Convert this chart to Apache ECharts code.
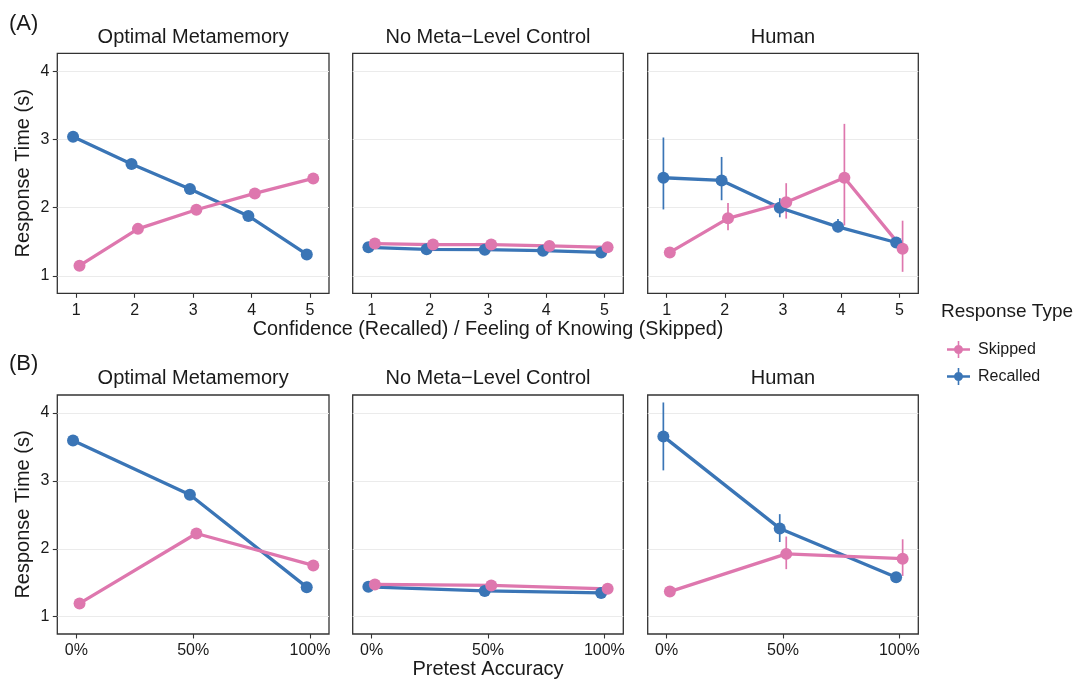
<!DOCTYPE html>
<html><head><meta charset="utf-8">
<script src="https://cdn.jsdelivr.net/npm/echarts@6/dist/echarts.min.js"></script>
<style>html,body{margin:0;padding:0;background:#fff}#c{width:1075px;height:682px}</style>
</head><body><div id="c"></div>
<script>
// ---------- data ----------
const panelNames = ['Optimal Metamemory', 'No Meta\u2212Level Control', 'Human'];
const seriesNames = ['Skipped', 'Recalled'];
const confLevels = [1, 2, 3, 4, 5];
const accLevels = [0, 50, 100];
const confTicks = [1, 2, 3, 4, 5];
const accTicks = [0, 50, 100];
const yTicks = [1, 2, 3, 4];

// (A) Confidence / FOK
const optConfRecalled = [3.04, 2.64, 2.275, 1.88, 1.315];
const optConfSkipped  = [1.15, 1.69, 1.97, 2.21, 2.43];
const nmlConfRecalled = [1.42, 1.39, 1.385, 1.37, 1.345];
const nmlConfSkipped  = [1.475, 1.46, 1.46, 1.44, 1.42];
const humConfRecalled   = [2.44, 2.40, 2.00, 1.72, 1.49];
const humConfRecalledLo = [1.975, 2.11, 1.86, 1.64, 1.45];
const humConfRecalledHi = [3.03, 2.745, 2.14, 1.835, 1.53];
const humConfSkipped    = [1.345, 1.845, 2.08, 2.44, 1.40];
const humConfSkippedLo  = [1.30, 1.67, 1.84, 1.74, 1.06];
const humConfSkippedHi  = [1.42, 2.07, 2.36, 3.23, 1.81];

// (B) Pretest accuracy
const optAccRecalled = [3.595, 2.795, 1.435];
const optAccSkipped  = [1.195, 2.225, 1.755];
const nmlAccRecalled = [1.44, 1.38, 1.35];
const nmlAccSkipped  = [1.475, 1.46, 1.41];
const humAccRecalled   = [3.655, 2.30, 1.58];
const humAccRecalledLo = [3.155, 2.10, 1.54];
const humAccRecalledHi = [4.155, 2.51, 1.62];
const humAccSkipped    = [1.37, 1.925, 1.855];
const humAccSkippedLo  = [1.33, 1.70, 1.60];
const humAccSkippedHi  = [1.45, 2.18, 2.14];

// ---------- styling ----------
const PINK = '#DE77AE';
const BLUE = '#3A75B6';
const FONT = '"Liberation Sans", Arial, Helvetica, sans-serif';
const TXT = '#1a1a1a';
const colLeft = [57.3, 352.7, 647.7];
const colWidth = [271.7, 270.6, 270.6];
const rowTop = [53.3, 395];
const rowHeight = [240, 239];
const yMin = 0.745, yMax = 4.265;

const rows = [
  { levels: confLevels, ticks: confTicks, xMin: 0.675, xMax: 5.325, dodge: 0.055, fmt: v => String(v),
    panels: [
      { rec: optConfRecalled, skp: optConfSkipped },
      { rec: nmlConfRecalled, skp: nmlConfSkipped },
      { rec: humConfRecalled, skp: humConfSkipped, recLo: humConfRecalledLo, recHi: humConfRecalledHi, skpLo: humConfSkippedLo, skpHi: humConfSkippedHi }
    ] },
  { levels: accLevels, ticks: accTicks, xMin: -8.125, xMax: 108.125, dodge: 1.4, fmt: v => v + '%',
    panels: [
      { rec: optAccRecalled, skp: optAccSkipped },
      { rec: nmlAccRecalled, skp: nmlAccSkipped },
      { rec: humAccRecalled, skp: humAccSkipped, recLo: humAccRecalledLo, recHi: humAccRecalledHi, skpLo: humAccSkippedLo, skpHi: humAccSkippedHi }
    ] }
];

const grid = [], xAxis = [], yAxis = [], series = [];

function errSeries(name, idx, pts, color) {
  return {
    type: 'custom', name: name, xAxisIndex: idx, yAxisIndex: idx, z: 2,
    data: pts,
    renderItem: function (params, api) {
      const x = api.value(0), lo = api.value(1), hi = api.value(2);
      const a = api.coord([x, lo]), b = api.coord([x, hi]);
      return { type: 'line', shape: { x1: a[0], y1: a[1], x2: b[0], y2: b[1] },
               style: { stroke: color, lineWidth: 1.7 } };
    }
  };
}
function lineSeries(name, idx, pts, color) {
  return {
    type: 'line', name: name, xAxisIndex: idx, yAxisIndex: idx, z: 3,
    data: pts, symbol: 'circle', symbolSize: 12, showSymbol: true,
    lineStyle: { color: color, width: 3.3 }, itemStyle: { color: color },
    emphasis: { disabled: true }
  };
}

rows.forEach((row, r) => {
  row.panels.forEach((p, c) => {
    const idx = r * 3 + c;
    grid.push({ left: colLeft[c], top: rowTop[r], width: colWidth[c], height: rowHeight[r],
      show: true, borderColor: '#333333', borderWidth: 1.3, backgroundColor: 'transparent' });
    xAxis.push({ type: 'value', gridIndex: idx, min: row.xMin, max: row.xMax,
      axisLine: { show: false, onZero: false },
      axisTick: { show: true, length: 4.5, lineStyle: { color: '#333333', width: 1.1 }, customValues: row.ticks },
      axisLabel: { customValues: row.ticks, formatter: row.fmt, margin: 9, fontSize: 16, color: TXT, fontFamily: FONT },
      splitLine: { show: false } });
    yAxis.push({ type: 'value', gridIndex: idx, min: yMin, max: yMax,
      axisLine: { show: false, onZero: false },
      axisTick: { show: c === 0, length: 4.5, lineStyle: { color: '#333333', width: 1.1 }, customValues: yTicks },
      axisLabel: { show: c === 0, customValues: yTicks, margin: 8, fontSize: 16, color: TXT, fontFamily: FONT },
      splitLine: { show: true, lineStyle: { color: '#EBEBEB', width: 1.2 } } });

    const recPts = row.levels.map((x, i) => [x - row.dodge, p.rec[i]]);
    const skpPts = row.levels.map((x, i) => [x + row.dodge, p.skp[i]]);
    if (p.recLo) series.push(errSeries('Recalled range', idx, row.levels.map((x, i) => [x - row.dodge, p.recLo[i], p.recHi[i]]), BLUE));
    series.push(lineSeries('Recalled', idx, recPts, BLUE));
    if (p.skpLo) series.push(errSeries('Skipped range', idx, row.levels.map((x, i) => [x + row.dodge, p.skpLo[i], p.skpHi[i]]), PINK));
    series.push(lineSeries('Skipped', idx, skpPts, PINK));
  });
});

const iconPath = 'path://M0 7.3 H23 V9.7 H0 Z M10.7 0 H12.3 V17 H10.7 Z M7 8.5 A4.5 4.5 0 1 1 16 8.5 A4.5 4.5 0 1 1 7 8.5 Z';

function txt(text, x, y, size, align, extra) {
  return Object.assign({ type: 'text', x: x, y: y, silent: true,
    style: { text: text, fontSize: size, fontFamily: FONT, fill: TXT, align: align || 'center', verticalAlign: 'middle' } }, extra || {});
}
const graphics = [];
graphics.push(txt('(A)', 9, 23.7, 22, 'left'));
graphics.push(txt('(B)', 9, 363.7, 22, 'left'));
const titleY = [37.5, 378.5];
for (let r = 0; r < 2; r++) {
  for (let c = 0; c < 3; c++) {
    graphics.push(txt(panelNames[c], colLeft[c] + colWidth[c] / 2, titleY[r], 20));
  }
  graphics.push(txt('Response Time (s)', 23.5, rowTop[r] + rowHeight[r] / 2, 20, 'center', { rotation: Math.PI / 2 }));
}
graphics.push(txt('Confidence (Recalled) / Feeling of Knowing (Skipped)', 488, 330, 19.8));
graphics.push(txt('Pretest Accuracy', 488, 669, 20));
graphics.push(txt('Response Type', 941, 312, 19, 'left'));

const chart = echarts.init(document.getElementById('c'), null, { renderer: 'canvas' });
chart.setOption({
  animation: false,
  backgroundColor: '#ffffff',
  grid: grid, xAxis: xAxis, yAxis: yAxis, series: series,
  legend: {
    data: [
      { name: 'Skipped', icon: iconPath, itemStyle: { color: PINK, borderWidth: 0 } },
      { name: 'Recalled', icon: iconPath, itemStyle: { color: BLUE, borderWidth: 0 } }
    ],
    orient: 'vertical', left: 942, top: 336, itemWidth: 23, itemHeight: 17, itemGap: 10,
    selectedMode: false,
    textStyle: { fontSize: 16, color: TXT, fontFamily: FONT, padding: [0, 0, 0, 3] }
  },
  graphic: graphics
});
</script></body></html>
